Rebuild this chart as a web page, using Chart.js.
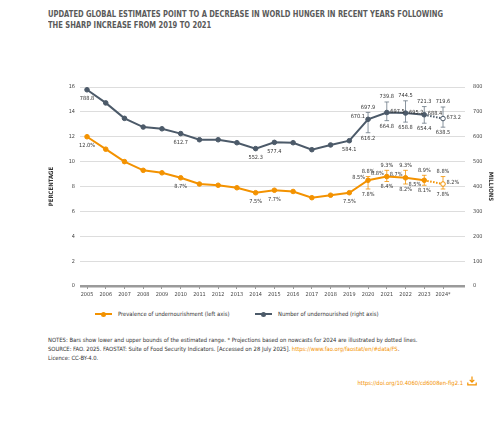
<!DOCTYPE html>
<html><head><meta charset="utf-8">
<script src="https://cdn.jsdelivr.net/npm/chart.js@4/dist/chart.umd.min.js"></script>
<style>
html,body{margin:0;padding:0;background:#fff}
body{width:500px;height:431px;position:relative;overflow:hidden;font-family:"Liberation Sans Narrow","DejaVu Sans Condensed",sans-serif}
#title{position:absolute;left:48px;top:8px;font-size:9.2px;font-weight:bold;color:#5a5a5a;line-height:11px;white-space:nowrap;transform-origin:0 0}
#wrap{position:absolute;left:0;top:75px;width:500px;height:230px}
#legend{position:absolute;top:309px;left:0;width:500px;height:10px;font-size:5.8px;color:#333}
.lg{position:absolute;top:0;height:10px;line-height:10px;white-space:nowrap}
.ln{position:absolute;top:4px;width:17px;height:2px}
.dt{position:absolute;top:2.5px;left:6px;width:5px;height:5px;border-radius:50%}
.tx{position:absolute;left:23px;top:0}
#notes{position:absolute;left:48px;top:336px;font-size:5.85px;color:#333;line-height:9px;white-space:nowrap}
#notes a,#doi a{color:#f39200;text-decoration:none}
#doi{position:absolute;right:37px;top:380px;font-size:5.85px;white-space:nowrap}
#icon{position:absolute;left:467px;top:376px}
</style>
</head><body>
<div id="title">UPDATED GLOBAL ESTIMATES POINT TO A DECREASE IN WORLD HUNGER IN RECENT YEARS FOLLOWING<br>THE SHARP INCREASE FROM 2019 TO 2021</div>
<div id="wrap"><canvas id="c"></canvas></div>
<div id="legend">
  <div class="lg" style="left:95px"><div class="ln" style="background:#f39200"></div><div class="dt" style="background:#f39200"></div><span class="tx">Prevalence of undernourishment (left axis)</span></div>
  <div class="lg" style="left:255px"><div class="ln" style="background:#4c5a69"></div><div class="dt" style="background:#4c5a69"></div><span class="tx">Number of undernourished (right axis)</span></div>
</div>
<div id="notes">NOTES: Bars show lower and upper bounds of the estimated range. * Projections based on nowcasts for 2024 are illustrated by dotted lines.<br>SOURCE: FAO. 2025. FAOSTAT: Suite of Food Security Indicators. [Accessed on 28 July 2025]. <a>https://www.fao.org/faostat/en/#data/FS</a>.<br>Licence: CC-BY-4.0.</div>
<div id="doi"><a>https://doi.org/10.4060/cd6008en-fig2.1</a></div>
<svg id="icon" width="10" height="10" viewBox="0 0 10 10"><path d="M5 0.5 V6 M2.7 3.8 L5 6.2 L7.3 3.8" stroke="#f39200" stroke-width="1.2" fill="none"/><path d="M0.8 6.5 V8.8 H9.2 V6.5" stroke="#f39200" stroke-width="1.2" fill="none"/></svg>
<script>
const years = ['2005','2006','2007','2008','2009','2010','2011','2012','2013','2014','2015','2016','2017','2018','2019','2020','2021','2022','2023','2024*'];
const pou = [12.0,11.0,10.0,9.3,9.1,8.7,8.2,8.1,7.9,7.5,7.7,7.6,7.1,7.3,7.5,8.5,8.8,8.7,8.5,8.2];
const pouLow = [null,null,null,null,null,null,null,null,null,null,null,null,null,null,null,7.8,8.4,8.2,8.1,7.8];
const pouHigh = [null,null,null,null,null,null,null,null,null,null,null,null,null,null,null,8.8,9.3,9.3,8.9,8.8];
const nou = [788.8,736,674,639,632,612.7,588,588,576,552.3,577.4,576,548,567,584.1,670.1,697.5,695.2,688.4,673.2];
const nouLow = [null,null,null,null,null,null,null,null,null,null,null,null,null,null,null,616.2,664.8,658.8,654.4,638.5];
const nouHigh = [null,null,null,null,null,null,null,null,null,null,null,null,null,null,null,697.9,739.8,744.5,721.3,719.6];
const leftTicks = [0,2,4,6,8,10,12,14,16];
const rightTicks = [0,100,200,300,400,500,600,700,800];

const ORANGE = '#f39200', SLATE = '#4c5a69', SLATE_ERR = '#6b7885';
const FONT = '"Liberation Sans Narrow","DejaVu Sans Condensed",sans-serif';
const labelIdx = [0,5,9,10,14,15,16,17,18,19];
const pouPos = {0:'b',5:'b',9:'b',10:'b',14:'b',15:'l',16:'l',17:'l',18:'lb',19:'r'};
const nouPos = {0:'b',5:'b',9:'b',10:'b',14:'b',15:'l',16:'r',17:'r',18:'r',19:'r'};
const last = years.length - 1;

// fit title to its measured width in the reference
function fitTitle(){
  const t = document.getElementById('title');
  t.style.transform = 'none';
  const w = t.getBoundingClientRect().width;
  if (w > 0) t.style.transform = 'scaleX(' + (395 / w) + ')';
}
fitTitle();
if (document.fonts && document.fonts.ready) document.fonts.ready.then(fitTitle);

function drawErr(ctx, xs, ys, lo, hi, color){
  ctx.strokeStyle = color; ctx.lineWidth = 0.8;
  lo.forEach((l,i)=>{
    if(l==null) return;
    const x = xs.getPixelForValue(i), y1 = ys.getPixelForValue(l), y2 = ys.getPixelForValue(hi[i]);
    ctx.beginPath();
    ctx.moveTo(x,y1); ctx.lineTo(x,y2);
    ctx.moveTo(x-2.3,y1); ctx.lineTo(x+2.3,y1);
    ctx.moveTo(x-2.3,y2); ctx.lineTo(x+2.3,y2);
    ctx.stroke();
  });
}
function txt(ctx, s, x, y, align){ ctx.textAlign = align; ctx.fillText(s, x, y); }
const plugin = {
  id:'extras',
  beforeDatasetsDraw(chart){
    const ctx = chart.ctx, xs = chart.scales.x;
    ctx.save();
    drawErr(ctx, xs, chart.scales.y, pouLow, pouHigh, ORANGE);
    drawErr(ctx, xs, chart.scales.y2, nouLow, nouHigh, SLATE_ERR);
    ctx.restore();
  },
  afterDatasetsDraw(chart){
    const ctx = chart.ctx, xs = chart.scales.x, yl = chart.scales.y, yr = chart.scales.y2;
    ctx.save();
    ctx.font = '5.6px ' + FONT; ctx.fillStyle = '#333'; ctx.textBaseline = 'middle';
    const fp = v => v.toFixed(1) + '%', fn = v => v.toFixed(1);
    labelIdx.forEach(i=>{
      const x = xs.getPixelForValue(i);
      [[pou,pouPos,yl,fp,pouLow,pouHigh],[nou,nouPos,yr,fn,nouLow,nouHigh]].forEach(([d,pos,sc,f,lo,hi])=>{
        const y = sc.getPixelForValue(d[i]), p = pos[i];
        if(p==='b') txt(ctx, f(d[i]), x, y+9, 'center');
        else if(p==='l') txt(ctx, f(d[i]), x-3, y-3, 'right');
        else if(p==='lb') txt(ctx, f(d[i]), x-3, y+4, 'right');
        else if(p==='r') txt(ctx, f(d[i]), x+3.5, y-1, 'left');
        if(lo[i]!=null){
          txt(ctx, f(hi[i]), x, sc.getPixelForValue(hi[i])-5, 'center');
          txt(ctx, f(lo[i]), x, sc.getPixelForValue(lo[i])+5.5, 'center');
        }
      });
    });
    ctx.restore();
  }
};

const dash = c => c.p1DataIndex === last ? [1.5,1.5] : undefined;
const fills = (col) => years.map((_,i)=> i===last ? '#fff' : col);
const pts = arr => arr.map((v,i)=>({x:i, y:v}));

new Chart(document.getElementById('c'), {
  type:'line',
  data:{
    datasets:[
      {label:'Prevalence of undernourishment (left axis)', data:pts(pou), yAxisID:'y', borderColor:ORANGE, backgroundColor:fills(ORANGE), pointBorderColor:ORANGE, borderWidth:2, pointRadius:2.3, pointBorderWidth:1, segment:{borderDash:dash}},
      {label:'Number of undernourished (right axis)', data:pts(nou), yAxisID:'y2', borderColor:SLATE, backgroundColor:fills(SLATE), pointBorderColor:SLATE, borderWidth:2, pointRadius:2.3, pointBorderWidth:1, segment:{borderDash:dash}}
    ]
  },
  options:{
    responsive:true, maintainAspectRatio:false, animation:false,
    layout:{padding:{left:48,right:6,top:12,bottom:0}},
    plugins:{legend:{display:false}, tooltip:{enabled:false}},
    scales:{
      x:{
        type:'linear', min:-0.374, max:20.174,
        afterBuildTicks: s => { s.ticks = years.map((_,i)=>({value:i})); },
        grid:{drawOnChartArea:false, drawTicks:true, tickLength:3, color:'#999'},
        border:{display:false},
        ticks:{font:{family:FONT,size:5.5}, color:'#444', padding:2, maxRotation:0, autoSkip:false, callback: v => years[v]},
        afterFit: s => { s.height = 19; }
      },
      y:{
        position:'left', min:0, max:16,
        afterBuildTicks: s => { s.ticks = leftTicks.map(v=>({value:v})); },
        grid:{drawTicks:false, color: c => c.tick.value===0 ? '#9a9a9a' : '#d4d4d4', lineWidth: c => c.tick.value===0 ? 2.5 : 0.8},
        border:{display:false},
        ticks:{font:{family:FONT,size:5.5}, color:'#444', padding:5},
        title:{display:true, text:'PERCENTAGE', font:{family:FONT,size:6,weight:'bold'}, color:'#333', padding:0},
        afterFit: s => { s.width = 32; }
      },
      y2:{
        position:'right', min:0, max:800,
        afterBuildTicks: s => { s.ticks = rightTicks.map(v=>({value:v})); },
        grid:{display:false, drawTicks:false},
        border:{display:false},
        ticks:{font:{family:FONT,size:5.5}, color:'#444', padding:8},
        title:{display:true, text:'MILLIONS', font:{family:FONT,size:6,weight:'bold'}, color:'#333', padding:0},
        afterFit: s => { s.width = 29; }
      }
    }
  },
  plugins:[plugin]
});
</script>
</body></html>
